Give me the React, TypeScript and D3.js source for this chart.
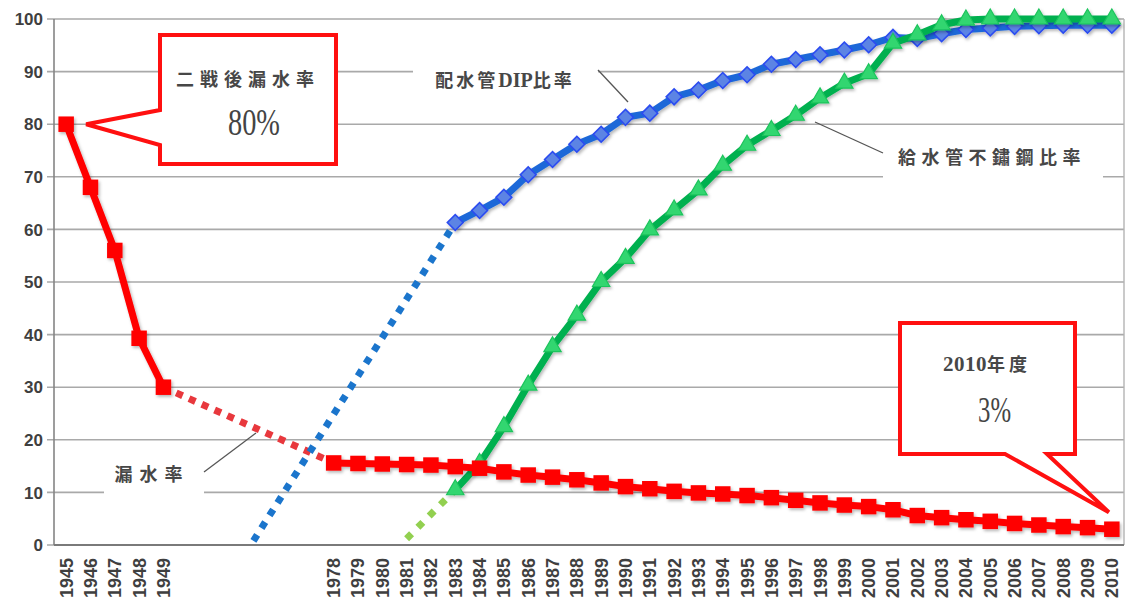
import React from "react";
import * as d3 from "d3";

// Category axis: the post-war years, a run of unlabeled slots, then 1978–2010
const earlyYears = ["1945", "1946", "1947", "1948", "1949"];
const skippedSlots = ["", "", "", "", "", ""];
const lateYears = [
  "1978", "1979", "1980", "1981", "1982", "1983", "1984", "1985", "1986", "1987",
  "1988", "1989", "1990", "1991", "1992", "1993", "1994", "1995", "1996", "1997",
  "1998", "1999", "2000", "2001", "2002", "2003", "2004", "2005", "2006", "2007",
  "2008", "2009", "2010",
];
const yTicks = [0, 10, 20, 30, 40, 50, 60, 70, 80, 90, 100];

// 漏水率 (%)
const leakEarly = [80, 68, 56, 39.3, 30];
const leakLate = [
  15.6, 15.5, 15.4, 15.3, 15.2, 14.9, 14.6, 13.9, 13.3, 12.9,
  12.4, 11.8, 11.1, 10.7, 10.2, 9.9, 9.7, 9.4, 9.0, 8.5,
  8.0, 7.6, 7.3, 6.7, 5.6, 5.2, 4.8, 4.5, 4.1, 3.8,
  3.5, 3.3, 3.0,
];

// 配水管DIP比率 (%), 1983–2010
const pipeYears = lateYears.slice(5);
const dipRatio = [
  61.3, 63.6, 66.1, 70.4, 73.3, 76.2, 78.1, 81.3, 82.1, 85.2,
  86.5, 88.3, 89.4, 91.4, 92.3, 93.2, 94.1, 95.1, 96.5, 96.3,
  97.2, 98.0, 98.3, 98.6, 98.7, 98.8, 98.8, 98.8,
];
// 給水管不鏽鋼比率 (%), 1983–2010
const stainlessRatio = [
  10.5, 15.5, 22.5, 30.4, 37.7, 43.7, 50.1, 54.5, 59.9, 63.7,
  67.5, 72.2, 76.0, 78.8, 81.7, 85.0, 87.8, 89.6, 95.4, 97.0,
  98.9, 99.8, 100, 100, 100, 100, 100, 100,
];

// Starting points of the dotted back-projections
const dipTrendStart = { slot: 7.7, value: 0.8 };
const stainlessTrendStart = { year: "1981", value: 1.2 };

const categories = [...earlyYears, ...skippedSlots, ...lateYears];

type Pt = { i: number; v: number };

const W = 1129;
const H = 607;
const plot = { left: 54, right: 1124, top: 19, bottom: 545 };

const x = d3
  .scaleLinear()
  .domain([-0.5, categories.length - 0.5])
  .range([plot.left, plot.right]);
const y = d3.scaleLinear().domain([0, 100]).range([plot.bottom, plot.top]);

const slotOf = (year: string) => categories.indexOf(year);
const toPts = (years: string[], vals: number[]): Pt[] =>
  vals.map((v, k) => ({ i: slotOf(years[k]), v }));

const line = d3
  .line<Pt>()
  .x((p) => x(p.i))
  .y((p) => y(p.v));

const leakA = toPts(earlyYears, leakEarly);
const leakB = toPts(lateYears, leakLate);
const dip = toPts(pipeYears, dipRatio);
const stainless = toPts(pipeYears, stainlessRatio);

const leakBridge: Pt[] = [leakA[leakA.length - 1], leakB[0]];
const dipBridge: Pt[] = [{ i: dipTrendStart.slot, v: dipTrendStart.value }, dip[0]];
const stainlessBridge: Pt[] = [
  { i: slotOf(stainlessTrendStart.year), v: stainlessTrendStart.value },
  stainless[0],
];

const squarePath = d3.symbol(d3.symbolSquare, 240)()!;
const diamondPath = d3.symbol(d3.symbolSquare, 125)()!;
const trianglePath = d3.symbol(d3.symbolTriangle, 130)()!;

const CJK = "'Noto Sans CJK JP', 'Noto Sans CJK TC', sans-serif";
const SERIF = "'Liberation Serif', 'DejaVu Serif', serif";
const SANS = "'Liberation Sans', Arial, sans-serif";
const INK = "#474747";

function Callout({
  box,
  tip,
  base,
  side,
}: {
  box: [number, number, number, number];
  tip: [number, number];
  base: [number, number];
  side: "left" | "bottom";
}) {
  const [x0, y0, x1, y1] = box;
  const path = d3.path();
  if (side === "left") {
    path.moveTo(x0, y0);
    path.lineTo(x1, y0);
    path.lineTo(x1, y1);
    path.lineTo(x0, y1);
    path.lineTo(x0, base[1]);
    path.lineTo(tip[0], tip[1]);
    path.lineTo(x0, base[0]);
  } else {
    path.moveTo(x0, y0);
    path.lineTo(x1, y0);
    path.lineTo(x1, y1);
    path.lineTo(base[1], y1);
    path.lineTo(tip[0], tip[1]);
    path.lineTo(base[0], y1);
    path.lineTo(x0, y1);
  }
  path.closePath();
  return (
    <path
      d={path.toString()}
      fill="#ffffff"
      stroke="#ff1010"
      strokeWidth={4}
      strokeLinejoin="miter"
    />
  );
}

export default function App() {
  const last = leakB[leakB.length - 1];
  return (
    <svg
      width={W}
      height={H}
      style={{ position: "absolute", left: 0, top: 0, background: "#fff" }}
    >
      <defs>
        <filter id="shade" x="-20%" y="-20%" width="140%" height="140%">
          <feDropShadow dx="1.5" dy="2" stdDeviation="1.6" floodColor="#000" floodOpacity="0.28" />
        </filter>
      </defs>
      <rect width={W} height={H} fill="#ffffff" />

      {/* grid and axes */}
      {yTicks.map((t) => (
        <line
          key={`g${t}`}
          x1={plot.left - 7}
          x2={plot.right}
          y1={y(t)}
          y2={y(t)}
          stroke="#a9a9a9"
          strokeWidth={1.6}
        />
      ))}
      <line x1={plot.left} x2={plot.left} y1={plot.top} y2={plot.bottom} stroke="#858585" strokeWidth={1.6} />
      <line x1={plot.right} x2={plot.right} y1={plot.top} y2={plot.bottom} stroke="#b4b4b4" strokeWidth={1.4} />
      <line x1={plot.left} x2={plot.right} y1={plot.bottom} y2={plot.bottom} stroke="#7a7a7a" strokeWidth={2} />

      {yTicks.map((t) => (
        <text
          key={`yl${t}`}
          x={43}
          y={y(t)}
          dy="0.36em"
          textAnchor="end"
          fontFamily={SANS}
          fontWeight={700}
          fontSize={17}
          fill="#3f3f3f"
        >
          {t}
        </text>
      ))}
      {categories.map((c, i) =>
        c ? (
          <text
            key={`xl${i}`}
            transform={`translate(${x(i)},${plot.bottom + 13}) rotate(-90)`}
            dy="0.36em"
            textAnchor="end"
            fontFamily={SANS}
            fontWeight={700}
            fontSize={18}
            fill="#3f3f3f"
          >
            {c}
          </text>
        ) : null
      )}

      {/* label backdrops interrupt the gridlines */}
      <rect x={413} y={60} width={185} height={40} fill="#fff" />
      <rect x={883} y={138} width={220} height={42} fill="#fff" />
      <rect x={104} y={456} width={100} height={40} fill="#fff" />

      {/* series labels with leader lines */}
      <line x1={598} y1={70} x2={628} y2={102} stroke="#555" strokeWidth={1.3} />
      <line x1={815} y1={122} x2={883} y2={153} stroke="#555" strokeWidth={1.3} />
      <line x1={204} y1={472} x2={256} y2={433} stroke="#555" strokeWidth={1.3} />
      <text x={505} y={81} dy="0.35em" textAnchor="middle" fontFamily={CJK} fontWeight={700} fontSize={18} letterSpacing={3} fill={INK}>
        配水管<tspan fontFamily={SERIF} fontSize={20} letterSpacing={0}>DIP</tspan>比率
      </text>
      <text x={992} y={158} dy="0.35em" textAnchor="middle" fontFamily={CJK} fontWeight={700} fontSize={18} letterSpacing={5.5} fill={INK}>
        給水管不鏽鋼比率
      </text>
      <text x={152} y={475} dy="0.35em" textAnchor="middle" fontFamily={CJK} fontWeight={700} fontSize={18} letterSpacing={7} fill={INK}>
        漏水率
      </text>

      {/* dotted back-projections */}
      <path d={line(leakBridge)!} fill="none" stroke="#e8383d" strokeWidth={7} strokeDasharray="7 7" />
      <path d={line(dipBridge)!} fill="none" stroke="#1b75cc" strokeWidth={7} strokeDasharray="7 8" />
      <path d={line(stainlessBridge)!} fill="none" stroke="#92d050" strokeWidth={7} strokeDasharray="7 9" />

      {/* 配水管DIP比率 */}
      <g filter="url(#shade)">
        <path d={line(dip)!} fill="none" stroke="#1f68d8" strokeWidth={7} strokeLinejoin="round" />
        {dip.map((p, k) => (
          <path
            key={`d${k}`}
            d={diamondPath}
            transform={`translate(${x(p.i)},${y(p.v)}) rotate(45)`}
            fill="#5b84e4"
            stroke="#2c4cf0"
            strokeWidth={1.6}
          />
        ))}
      </g>

      {/* 給水管不鏽鋼比率 */}
      <g filter="url(#shade)">
        <path d={line(stainless)!} fill="none" stroke="#00b04f" strokeWidth={7} strokeLinejoin="round" />
        {stainless.map((p, k) => (
          <path
            key={`s${k}`}
            d={trianglePath}
            transform={`translate(${x(p.i)},${y(p.v)})`}
            fill="#33d670"
            stroke="#1cc45c"
            strokeWidth={1.2}
          />
        ))}
      </g>

      {/* 漏水率 */}
      <g filter="url(#shade)">
        <path d={line(leakA)!} fill="none" stroke="#ff0000" strokeWidth={7} strokeLinejoin="round" />
        <path d={line(leakB)!} fill="none" stroke="#ff0000" strokeWidth={7} strokeLinejoin="round" />
        {[...leakA, ...leakB].map((p, k) => (
          <path
            key={`l${k}`}
            d={squarePath}
            transform={`translate(${x(p.i)},${y(p.v)})`}
            fill="#ff0000"
          />
        ))}
      </g>

      {/* callouts */}
      <Callout
        box={[160, 35, 336, 164]}
        base={[110, 145]}
        tip={[x(leakA[0].i) + 20, y(leakA[0].v)]}
        side="left"
      />
      <text x={248} y={80} dy="0.35em" textAnchor="middle" fontFamily={CJK} fontWeight={700} fontSize={18} letterSpacing={6} fill={INK}>
        二戦後漏水率
      </text>
      <text
        x={228}
        y={135}
        fontFamily={SERIF}
        fontSize={37}
        textLength={52}
        lengthAdjust="spacingAndGlyphs"
        fill="#444"
      >
        {`${leakA[0].v}%`}
      </text>

      <Callout
        box={[900, 323, 1075, 454]}
        base={[1005, 1047]}
        tip={[x(last.i) - 3, y(last.v) - 17]}
        side="bottom"
      />
      <text x={987} y={365} dy="0.35em" textAnchor="middle" fill={INK}>
        <tspan fontFamily={SERIF} fontWeight={700} fontSize={21} letterSpacing={0.5}>
          {lateYears[lateYears.length - 1]}
        </tspan>
        <tspan fontFamily={CJK} fontWeight={700} fontSize={18} letterSpacing={4}>
          年度
        </tspan>
      </text>
      <text
        x={978}
        y={422}
        fontFamily={SERIF}
        fontSize={36}
        textLength={33}
        lengthAdjust="spacingAndGlyphs"
        fill="#444"
      >
        {`${last.v}%`}
      </text>
    </svg>
  );
}
